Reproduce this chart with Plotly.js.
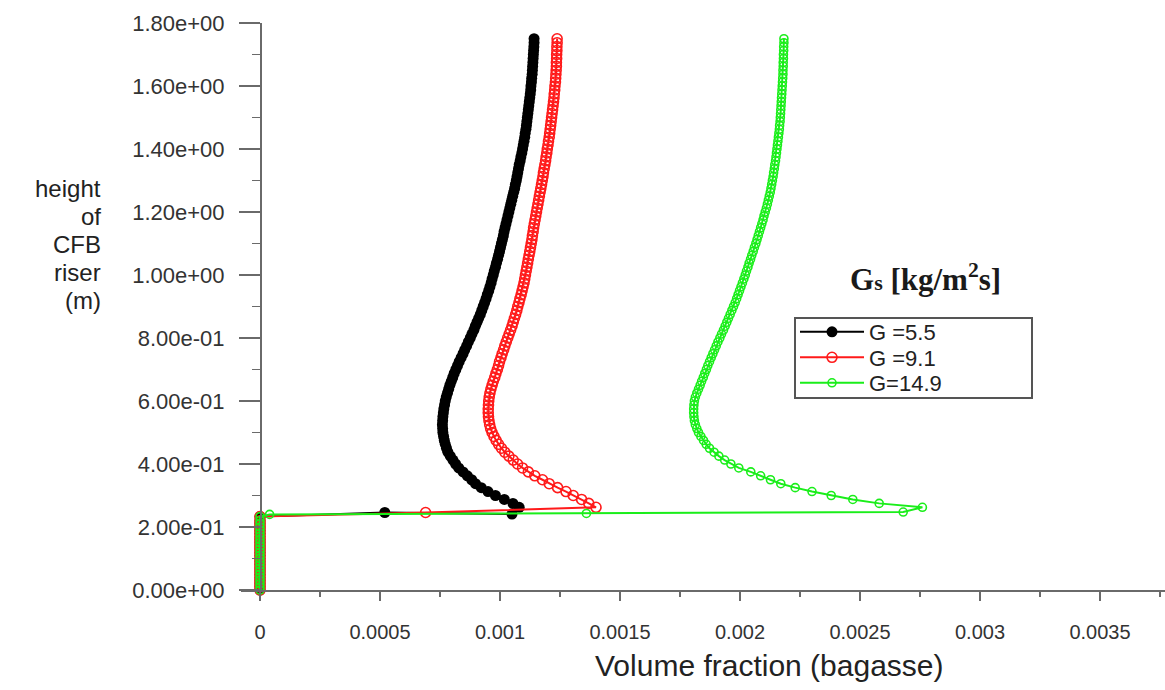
<!DOCTYPE html>
<html>
<head>
<meta charset="utf-8">
<script src="https://cdn.plot.ly/plotly-3.0.1.min.js"></script>
<style>
  html, body { margin: 0; padding: 0; background: #ffffff; }
  #chart { width: 1165px; height: 690px; }
</style>
</head>
<body>
<div id="chart"></div>
<script>
// Bagasse volume fraction along the height of the CFB riser for three solids fluxes.

const seriesNames = ['G =5.5', 'G =9.1', 'G=14.9'];

// Lower part of the riser, below the bagasse feed, where the fraction is zero
const baseHeights  = [0, 0.01, 0.02, 0.03, 0.04, 0.05, 0.06, 0.07, 0.08, 0.09, 0.10, 0.11,
  0.12, 0.13, 0.14, 0.15, 0.16, 0.17, 0.18, 0.19, 0.20, 0.21, 0.22, 0.233];
const baseFraction = [0, 0, 0, 0, 0, 0, 0, 0, 0, 0, 0, 0, 0, 0, 0, 0, 0, 0, 0, 0, 0, 0, 0, 0];

// Cells at the feed level
const g55FeedX  = [0.52e-3, 1.05e-3];
const g55FeedY  = [0.246, 0.241];
const g91FeedX  = [0.69e-3];
const g91FeedY  = [0.246];
const g149FeedX = [0.04e-3, 1.36e-3, 2.68e-3];
const g149FeedY = [0.240, 0.243, 0.2475];

// Heights above the feed (m)
const riserHeights = [0.2625, 0.275, 0.2875, 0.3, 0.3125, 0.325, 0.3375, 0.35, 0.3625, 0.375, 0.3875, 0.4,
  0.4125, 0.425, 0.4375, 0.45, 0.4625, 0.475, 0.4875, 0.5, 0.5125, 0.525, 0.5375, 0.55, 0.5625, 0.575,
  0.5875, 0.6, 0.6125, 0.625, 0.6375, 0.65, 0.6625, 0.675, 0.6875, 0.7, 0.7125, 0.725, 0.7375, 0.75,
  0.7625, 0.775, 0.7875, 0.8, 0.8125, 0.825, 0.8375, 0.85, 0.8625, 0.875, 0.8875, 0.9, 0.9125, 0.925,
  0.9375, 0.95, 0.9625, 0.975, 0.9875, 1.0, 1.0125, 1.025, 1.0375, 1.05, 1.0625, 1.075, 1.0875, 1.1,
  1.1125, 1.125, 1.1375, 1.15, 1.1625, 1.175, 1.1875, 1.2, 1.2125, 1.225, 1.2375, 1.25, 1.2625, 1.275,
  1.2875, 1.3, 1.3125, 1.325, 1.3375, 1.35, 1.3625, 1.375, 1.3875, 1.4, 1.4125, 1.425, 1.4375, 1.45,
  1.4625, 1.475, 1.4875, 1.5, 1.5125, 1.525, 1.5375, 1.55, 1.5625, 1.575, 1.5875, 1.6, 1.6125, 1.625,
  1.6375, 1.65, 1.6625, 1.675, 1.6875, 1.7, 1.7125, 1.725, 1.7375, 1.75];

// Volume fraction of bagasse at those heights
const g55Riser = [1.080e-3, 1.054e-3, 1.018e-3, 0.981e-3, 0.950e-3, 0.922e-3, 0.898e-3, 0.882e-3,
  0.864e-3, 0.846e-3, 0.828e-3, 0.815e-3, 0.804e-3, 0.793e-3, 0.783e-3, 0.777e-3, 0.772e-3, 0.768e-3,
  0.765e-3, 0.762e-3, 0.761e-3, 0.760e-3, 0.761e-3, 0.762e-3, 0.764e-3, 0.766e-3, 0.769e-3, 0.772e-3,
  0.776e-3, 0.781e-3, 0.786e-3, 0.791e-3, 0.797e-3, 0.803e-3, 0.809e-3, 0.816e-3, 0.823e-3, 0.830e-3,
  0.838e-3, 0.846e-3, 0.853e-3, 0.861e-3, 0.868e-3, 0.876e-3, 0.883e-3, 0.891e-3, 0.897e-3, 0.904e-3,
  0.911e-3, 0.918e-3, 0.924e-3, 0.930e-3, 0.936e-3, 0.942e-3, 0.947e-3, 0.953e-3, 0.958e-3, 0.963e-3,
  0.967e-3, 0.972e-3, 0.976e-3, 0.981e-3, 0.985e-3, 0.990e-3, 0.994e-3, 0.998e-3, 1.002e-3, 1.006e-3,
  1.010e-3, 1.014e-3, 1.017e-3, 1.021e-3, 1.025e-3, 1.029e-3, 1.033e-3, 1.037e-3, 1.041e-3, 1.045e-3,
  1.049e-3, 1.053e-3, 1.057e-3, 1.061e-3, 1.064e-3, 1.068e-3, 1.071e-3, 1.074e-3, 1.077e-3, 1.080e-3,
  1.084e-3, 1.087e-3, 1.091e-3, 1.094e-3, 1.097e-3, 1.100e-3, 1.103e-3, 1.105e-3, 1.108e-3, 1.110e-3,
  1.112e-3, 1.114e-3, 1.116e-3, 1.118e-3, 1.120e-3, 1.122e-3, 1.124e-3, 1.126e-3, 1.128e-3, 1.129e-3,
  1.131e-3, 1.132e-3, 1.134e-3, 1.135e-3, 1.136e-3, 1.137e-3, 1.138e-3, 1.139e-3, 1.140e-3, 1.141e-3,
  1.142e-3, 1.142e-3];

const g91Riser = [1.400e-3, 1.370e-3, 1.340e-3, 1.305e-3, 1.275e-3, 1.240e-3, 1.205e-3, 1.177e-3,
  1.145e-3, 1.118e-3, 1.094e-3, 1.073e-3, 1.055e-3, 1.037e-3, 1.020e-3, 1.006e-3, 0.994e-3, 0.984e-3,
  0.975e-3, 0.967e-3, 0.961e-3, 0.957e-3, 0.954e-3, 0.952e-3, 0.951e-3, 0.951e-3, 0.952e-3, 0.953e-3,
  0.955e-3, 0.958e-3, 0.962e-3, 0.967e-3, 0.972e-3, 0.978e-3, 0.983e-3, 0.989e-3, 0.994e-3, 0.998e-3,
  1.004e-3, 1.009e-3, 1.015e-3, 1.020e-3, 1.026e-3, 1.032e-3, 1.038e-3, 1.044e-3, 1.050e-3, 1.055e-3,
  1.060e-3, 1.065e-3, 1.070e-3, 1.074e-3, 1.079e-3, 1.083e-3, 1.088e-3, 1.092e-3, 1.096e-3, 1.100e-3,
  1.103e-3, 1.106e-3, 1.109e-3, 1.112e-3, 1.115e-3, 1.118e-3, 1.121e-3, 1.124e-3, 1.127e-3, 1.130e-3,
  1.133e-3, 1.135e-3, 1.138e-3, 1.140e-3, 1.143e-3, 1.146e-3, 1.149e-3, 1.152e-3, 1.155e-3, 1.158e-3,
  1.161e-3, 1.164e-3, 1.167e-3, 1.170e-3, 1.173e-3, 1.176e-3, 1.179e-3, 1.181e-3, 1.184e-3, 1.187e-3,
  1.190e-3, 1.192e-3, 1.195e-3, 1.197e-3, 1.200e-3, 1.202e-3, 1.205e-3, 1.207e-3, 1.209e-3, 1.211e-3,
  1.213e-3, 1.215e-3, 1.217e-3, 1.219e-3, 1.221e-3, 1.223e-3, 1.225e-3, 1.226e-3, 1.228e-3, 1.229e-3,
  1.231e-3, 1.232e-3, 1.233e-3, 1.234e-3, 1.235e-3, 1.235e-3, 1.236e-3, 1.236e-3, 1.237e-3, 1.237e-3,
  1.238e-3, 1.238e-3];

const g149Riser = [2.760e-3, 2.580e-3, 2.470e-3, 2.380e-3, 2.300e-3, 2.230e-3, 2.170e-3, 2.127e-3,
  2.086e-3, 2.045e-3, 1.995e-3, 1.962e-3, 1.936e-3, 1.912e-3, 1.892e-3, 1.873e-3, 1.859e-3, 1.848e-3,
  1.837e-3, 1.827e-3, 1.820e-3, 1.814e-3, 1.810e-3, 1.808e-3, 1.807e-3, 1.807e-3, 1.808e-3, 1.810e-3,
  1.814e-3, 1.820e-3, 1.827e-3, 1.834e-3, 1.840e-3, 1.847e-3, 1.853e-3, 1.860e-3, 1.866e-3, 1.873e-3,
  1.880e-3, 1.887e-3, 1.894e-3, 1.901e-3, 1.908e-3, 1.916e-3, 1.923e-3, 1.931e-3, 1.938e-3, 1.945e-3,
  1.952e-3, 1.959e-3, 1.966e-3, 1.973e-3, 1.980e-3, 1.986e-3, 1.992e-3, 1.998e-3, 2.004e-3, 2.010e-3,
  2.016e-3, 2.022e-3, 2.027e-3, 2.033e-3, 2.038e-3, 2.044e-3, 2.049e-3, 2.055e-3, 2.060e-3, 2.066e-3,
  2.071e-3, 2.076e-3, 2.081e-3, 2.086e-3, 2.091e-3, 2.096e-3, 2.100e-3, 2.105e-3, 2.110e-3, 2.114e-3,
  2.118e-3, 2.122e-3, 2.126e-3, 2.129e-3, 2.132e-3, 2.135e-3, 2.138e-3, 2.140e-3, 2.143e-3, 2.145e-3,
  2.148e-3, 2.150e-3, 2.152e-3, 2.154e-3, 2.156e-3, 2.158e-3, 2.160e-3, 2.162e-3, 2.164e-3, 2.165e-3,
  2.167e-3, 2.168e-3, 2.169e-3, 2.170e-3, 2.171e-3, 2.172e-3, 2.173e-3, 2.174e-3, 2.175e-3, 2.176e-3,
  2.177e-3, 2.178e-3, 2.179e-3, 2.179e-3, 2.180e-3, 2.180e-3, 2.181e-3, 2.181e-3, 2.182e-3, 2.182e-3,
  2.183e-3, 2.183e-3];

// Axis ticks
const xTickValues = [0, 0.0005, 0.001, 0.0015, 0.002, 0.0025, 0.003, 0.0035];
const xTickLabels = ['0', '0.0005', '0.001', '0.0015', '0.002', '0.0025', '0.003', '0.0035'];
const yTickValues = [0, 0.2, 0.4, 0.6, 0.8, 1.0, 1.2, 1.4, 1.6, 1.8];
const yTickLabels = ['0.00e+00', '2.00e-01', '4.00e-01', '6.00e-01', '8.00e-01', '1.00e+00',
  '1.20e+00', '1.40e+00', '1.60e+00', '1.80e+00'];

// Y axis title, one word per line
const yTitleLines = ['height', 'of', 'CFB', 'riser', '(m)'];

// ---- layout geometry (pixels) ----
const W = 1165, H = 690;
const PLOT_L = 241, PLOT_R = 0, PLOT_T = 23, PLOT_B = 100;
const PLOT_W = W - PLOT_L - PLOT_R, PLOT_H = H - PLOT_T - PLOT_B;
const paperX = px => (px - PLOT_L) / PLOT_W;
const paperY = py => (H - PLOT_B - py) / PLOT_H;
// x = 0 sits at 260 px and 0.001 spans 240 px
const dataXAt = px => (px - 260) / 240000;

const SANS = 'Liberation Sans, Arial, Helvetica, sans-serif';
const SERIF = 'Liberation Serif, Times New Roman, serif';
const AXIS_GREY = '#6a6a6a';

function profile(feedX, feedY, riserX) {
  return {
    x: baseFraction.concat(feedX, riserX),
    y: baseHeights.concat(feedY, riserHeights)
  };
}

const p55 = profile(g55FeedX, g55FeedY, g55Riser);
const p91 = profile(g91FeedX, g91FeedY, g91Riser);
const p149 = profile(g149FeedX, g149FeedY, g149Riser);

const traces = [
  {
    name: seriesNames[0], x: p55.x, y: p55.y, type: 'scatter', mode: 'lines+markers',
    line: { color: '#000000', width: 2 },
    marker: { symbol: 'circle', size: 11, color: '#000000' },
    cliponaxis: false, legend: 'legend'
  },
  {
    name: seriesNames[1], x: p91.x, y: p91.y, type: 'scatter', mode: 'lines+markers',
    line: { color: '#ff1a1a', width: 2 },
    marker: { symbol: 'circle-open', size: 10, color: '#ff1a1a', line: { width: 1.6 } },
    cliponaxis: false, legend: 'legend2'
  },
  {
    name: seriesNames[2], x: p149.x, y: p149.y, type: 'scatter', mode: 'lines+markers',
    line: { color: '#1aee1a', width: 2 },
    marker: { symbol: 'circle-open', size: 8, color: '#1aee1a', line: { width: 1.6 } },
    cliponaxis: false, legend: 'legend3'
  }
];

function legendAt(py) {
  return {
    x: paperX(795), y: paperY(py), xanchor: 'left', yanchor: 'middle',
    bgcolor: 'rgba(0,0,0,0)', borderwidth: 0, itemwidth: 64,
    font: { family: SANS, size: 22, color: '#222222' }
  };
}

const yTitleRows = [188, 216, 244, 272, 300];
const yTitleAnnotations = yTitleLines.map((t, i) => ({
  text: t, xref: 'paper', yref: 'paper',
  x: paperX(103), y: paperY(yTitleRows[i]), xanchor: 'right', yanchor: 'middle', align: 'right',
  showarrow: false, font: { family: SANS, size: 24, color: '#222222' }
}));

const layout = {
  width: W, height: H, autosize: false,
  margin: { l: PLOT_L, r: PLOT_R, t: PLOT_T, b: PLOT_B, pad: 0 },
  paper_bgcolor: '#ffffff', plot_bgcolor: '#ffffff',
  showlegend: true,
  xaxis: {
    range: [dataXAt(PLOT_L), dataXAt(W)],
    showline: true, linecolor: AXIS_GREY, linewidth: 2,
    showgrid: false, zeroline: false,
    ticks: 'outside', ticklen: 9, tickwidth: 1.5, tickcolor: AXIS_GREY,
    tickmode: 'array', tickvals: xTickValues, ticktext: xTickLabels,
    tickfont: { family: SANS, size: 20, color: '#333333' },
    ticklabelstandoff: 14,
    minor: { tickmode: 'linear', tick0: 0, dtick: 0.00025, ticks: 'outside', ticklen: 5, tickwidth: 1.5, tickcolor: AXIS_GREY }
  },
  yaxis: {
    range: [0, 1.8], anchor: 'free', position: paperX(261),
    showline: true, linecolor: AXIS_GREY, linewidth: 2,
    showgrid: false, zeroline: false,
    ticks: 'outside', ticklen: 21, tickwidth: 1.5, tickcolor: AXIS_GREY,
    tickmode: 'array', tickvals: yTickValues, ticktext: yTickLabels,
    tickfont: { family: SANS, size: 22, color: '#333333' },
    ticklabelstandoff: 10,
    minor: { tickmode: 'linear', tick0: 0, dtick: 0.1, ticks: 'outside', ticklen: 8, tickwidth: 1.5, tickcolor: AXIS_GREY }
  },
  legend: legendAt(332),
  legend2: legendAt(357.5),
  legend3: legendAt(383),
  shapes: [
    { type: 'rect', xref: 'paper', yref: 'paper',
      x0: paperX(795), x1: paperX(1032), y0: paperY(398), y1: paperY(318),
      line: { color: '#555555', width: 2 }, fillcolor: 'rgba(0,0,0,0)' }
  ],
  annotations: yTitleAnnotations.concat([
    { text: 'Volume fraction (bagasse)', xref: 'paper', yref: 'paper',
      x: paperX(769), y: paperY(665), xanchor: 'center', yanchor: 'middle',
      showarrow: false, font: { family: SANS, size: 30, color: '#222222' } },
    { text: 'G<span style="font-size:22px">s</span> [kg/m<sup>2</sup>s]', xref: 'paper', yref: 'paper',
      x: paperX(925), y: paperY(277), xanchor: 'center', yanchor: 'middle',
      showarrow: false, font: { family: SERIF, size: 31, color: '#1a1a1a', weight: 'bold' } }
  ])
};

Plotly.newPlot('chart', traces, layout, { staticPlot: true, displayModeBar: false });
</script>
</body>
</html>
